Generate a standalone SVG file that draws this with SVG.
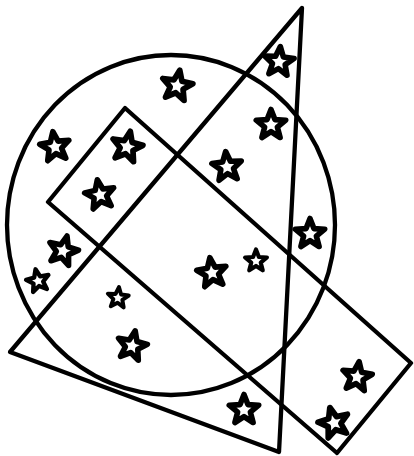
<svg xmlns="http://www.w3.org/2000/svg" xmlns:xlink="http://www.w3.org/1999/xlink" width="414" height="456" viewBox="0 0 414 456">
<style>
.sh{fill:none;stroke:#000;stroke-width:4.3;stroke-linejoin:round;stroke-linecap:round}
.st{fill:#fff;stroke:#000;stroke-width:3.6;stroke-linejoin:round}
</style>
<defs>
<path id="star" class="st" d="M0,-10 L2.53,-3.48 L9.51,-3.09 L4.09,1.33 L5.88,8.09 L0,4.3 L-5.88,8.09 L-4.09,1.33 L-9.51,-3.09 L-2.53,-3.48 Z"/>
</defs>
<rect width="414" height="456" fill="#fff"/>
<g id="shapes">
<ellipse id="circle" class="sh" cx="171" cy="225" rx="164" ry="170"/>
<polygon id="triangle" class="sh" points="302,8 279,452 10,352"/>
<polygon id="rectangle" class="sh" points="125,108 411,363 337,453 48,202"/>
</g>
<g id="stars">
<use xlink:href="#star" transform="translate(177,86) rotate(10) scale(1.6)"/>
<use xlink:href="#star" transform="translate(55,147) rotate(-8) scale(1.55)"/>
<use xlink:href="#star" transform="translate(127,147) rotate(12) scale(1.6)"/>
<use xlink:href="#star" transform="translate(100,195) rotate(-10) scale(1.55)"/>
<use xlink:href="#star" transform="translate(279,62) rotate(5) scale(1.55)"/>
<use xlink:href="#star" transform="translate(271,125) rotate(0) scale(1.55)"/>
<use xlink:href="#star" transform="translate(227,167) rotate(-5) scale(1.55)"/>
<use xlink:href="#star" transform="translate(310,234) rotate(0) scale(1.55)"/>
<use xlink:href="#star" transform="translate(63,251) rotate(15) scale(1.55)"/>
<use xlink:href="#star" transform="translate(38,281) rotate(-12) scale(1.2)"/>
<use xlink:href="#star" transform="translate(118,298) rotate(5) scale(1.1)"/>
<use xlink:href="#star" transform="translate(132,346) rotate(12) scale(1.55)"/>
<use xlink:href="#star" transform="translate(212,273) rotate(-8) scale(1.55)"/>
<use xlink:href="#star" transform="translate(256,261) rotate(0) scale(1.15)"/>
<use xlink:href="#star" transform="translate(357,377) rotate(8) scale(1.55)"/>
<use xlink:href="#star" transform="translate(244,410) rotate(0) scale(1.55)"/>
<use xlink:href="#star" transform="translate(334,423) rotate(-15) scale(1.6)"/>
</g>
</svg>
